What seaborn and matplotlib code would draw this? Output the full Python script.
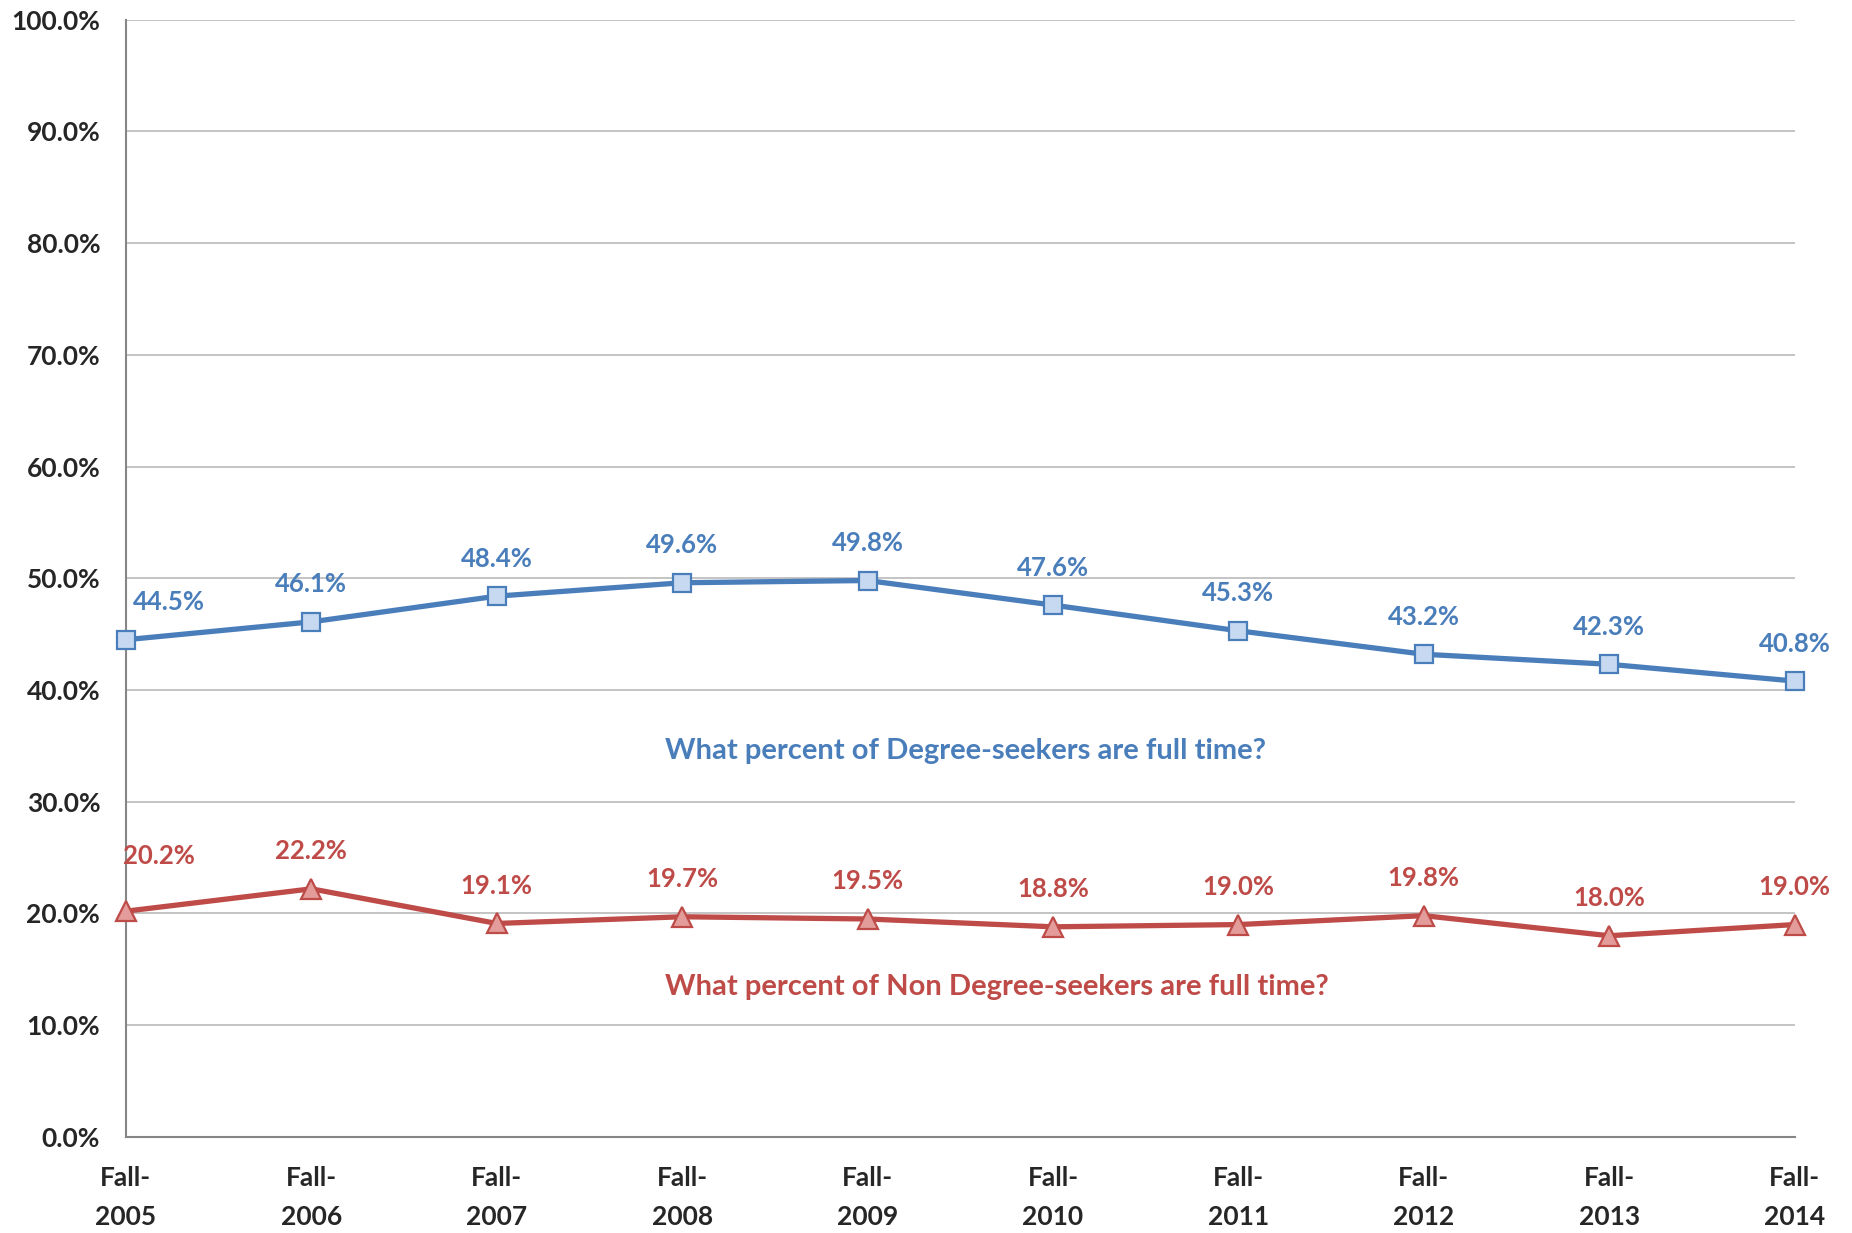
import seaborn as sns
import matplotlib.pyplot as plt
import pandas as pd

terms = ["Fall-\n2005", "Fall-\n2006", "Fall-\n2007", "Fall-\n2008", "Fall-\n2009",
         "Fall-\n2010", "Fall-\n2011", "Fall-\n2012", "Fall-\n2013", "Fall-\n2014"]
degree_ft = [44.5, 46.1, 48.4, 49.6, 49.8, 47.6, 45.3, 43.2, 42.3, 40.8]
non_degree_ft = [20.2, 22.2, 19.1, 19.7, 19.5, 18.8, 19.0, 19.8, 18.0, 19.0]
y_ticks = [0, 10, 20, 30, 40, 50, 60, 70, 80, 90, 100]

BLUE = "#4A7EBB"
BLUE_FILL = "#C6D9F1"
RED = "#BE4B48"
RED_FILL = "#E39C9A"

sns.set_style("white")
plt.rcParams["font.family"] = ["Lato", "DejaVu Sans"]
plt.rcParams["font.weight"] = "bold"

df = pd.DataFrame({"pos": range(len(terms)), "degree": degree_ft, "non_degree": non_degree_ft})

fig = plt.figure(figsize=(18.52, 12.33), dpi=100)
ax = fig.add_axes([0.068, 0.078, 0.901, 0.906])

sns.lineplot(data=df, x="pos", y="degree", ax=ax, color=BLUE, linewidth=3.8,
             marker="s", markersize=13, markerfacecolor=BLUE_FILL,
             markeredgecolor=BLUE, markeredgewidth=1.6, clip_on=False, zorder=4)
sns.lineplot(data=df, x="pos", y="non_degree", ax=ax, color=RED, linewidth=3.8,
             marker="^", markersize=15, markerfacecolor=RED_FILL,
             markeredgecolor=RED, markeredgewidth=1.6, clip_on=False, zorder=4)

# data labels above each point (first one nudged right off the axis)
for series, color in [(degree_ft, BLUE), (non_degree_ft, RED)]:
    for i, v in enumerate(series):
        dx, dy = (0, 27)
        if i == 0:
            dx, dy = (31, 27) if color == BLUE else (24, 40)
        ax.annotate(f"{v:.1f}%", (i, v), xytext=(dx, dy), textcoords="offset points",
                    ha="center", va="center", color=color, fontsize=18.5,
                    fontweight="bold", annotation_clip=False)

ax.text(4.53, 34.5, "What percent of Degree-seekers are full time?", color=BLUE,
        fontsize=21, fontweight="bold", ha="center", va="center")
ax.text(4.70, 13.4, "What percent of Non Degree-seekers are full time?", color=RED,
        fontsize=21, fontweight="bold", ha="center", va="center")

ax.set_xlim(0, len(terms) - 1)
ax.set_ylim(0, 100)
ax.set_yticks(y_ticks)
ax.set_yticklabels([f"{t:.1f}%" for t in y_ticks])
ax.set_xticks(range(len(terms)))
ax.set_xticklabels(terms, linespacing=1.75)
ax.set_xlabel("")
ax.set_ylabel("")

ax.yaxis.grid(True, color="#BFBFBF", linewidth=1.3)
ax.set_axisbelow(True)
for side in ["top", "right"]:
    ax.spines[side].set_visible(False)
for side in ["left", "bottom"]:
    ax.spines[side].set_color("#868686")
    ax.spines[side].set_linewidth(1.5)

ax.tick_params(axis="y", direction="out", length=6.5, width=1.3, color="#868686",
               pad=12, labelsize=19)
ax.tick_params(axis="x", direction="out", length=6, width=1.3, color="#868686",
               pad=15, labelsize=19)
for lbl in ax.get_xticklabels() + ax.get_yticklabels():
    lbl.set_fontweight("bold")

fig.savefig("out.png", dpi=100)
